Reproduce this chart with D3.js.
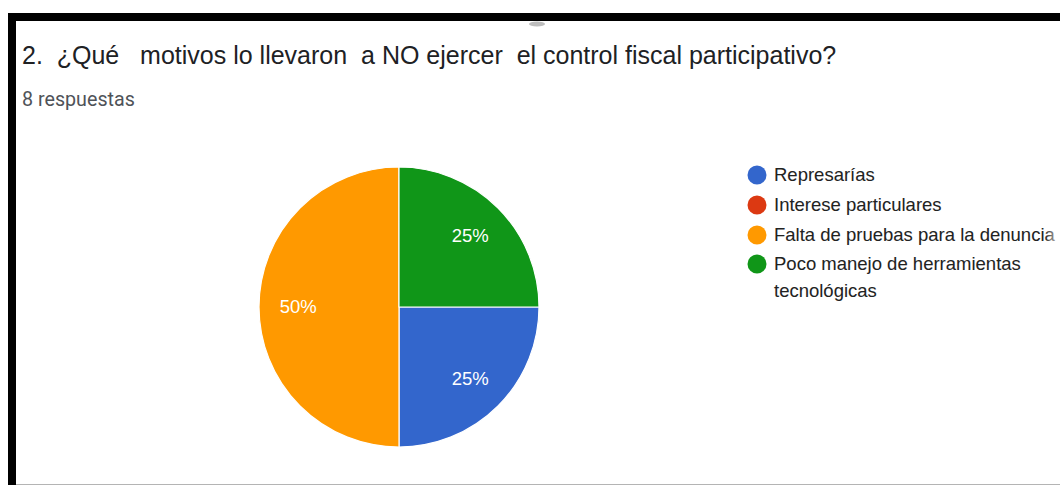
<!DOCTYPE html>
<html><head><meta charset="utf-8">
<script src="https://cdn.jsdelivr.net/npm/d3@7"></script>
<style>html,body{margin:0;padding:0;background:#fff;overflow:hidden}</style>
</head><body>
<svg id="c" width="1060" height="485"></svg>
<script>
const title = "2.  ¿Qué   motivos lo llevaron  a NO ejercer  el control fiscal participativo?";
const subtitle = "8 respuestas";
const categories = ["Represarías", "Interese particulares", "Falta de pruebas para la denuncia", "Poco manejo de herramientas tecnológicas"];
const legendLines = [["Represarías"], ["Interese particulares"], ["Falta de pruebas para la denuncia"], ["Poco manejo de herramientas", "tecnológicas"]];
const values = [2, 0, 4, 2];
const colors = ["#3366cc", "#dc3912", "#ff9900", "#109618"];

const svg = d3.select("#c");
svg.append("rect").attr("width",1060).attr("height",485).attr("fill","#fff");

// frame
svg.append("rect").attr("x",8).attr("y",13).attr("width",1052).attr("height",8).attr("fill","#000");
svg.append("rect").attr("x",8).attr("y",13).attr("width",8).attr("height",472).attr("fill","#000");
svg.append("line").attr("x1",16).attr("x2",1060).attr("y1",484.5).attr("y2",484.5).attr("stroke","#b4b4b4").attr("stroke-width",1);
svg.append("ellipse").attr("cx",537).attr("cy",24).attr("rx",8).attr("ry",2.5).attr("fill","#bdbdbd");

svg.append("text").attr("x",22).attr("y",64).attr("font-family","Arial, 'Liberation Sans', sans-serif")
  .attr("font-size",25).attr("fill","#202124").style("white-space","pre").text(title);
svg.append("text").attr("x",22).attr("y",106).attr("font-family","Roboto, Arial, sans-serif")
  .attr("font-size",19.7).attr("fill","#4f5358").text(subtitle);

const cx = 399, cy = 307, r = 140;
const g = svg.append("g").attr("transform",`translate(${cx},${cy})`);
const pie = d3.pie().sort(null).value(d=>d).startAngle(Math.PI/2).endAngle(Math.PI/2 + 2*Math.PI);
const arcs = pie(values);
const arc = d3.arc().innerRadius(0).outerRadius(r);
const total = d3.sum(values);
g.selectAll("path").data(arcs).join("path")
  .attr("d",arc).attr("fill",(d,i)=>colors[i]).attr("stroke","#fff").attr("stroke-width",1.2)
  .style("display",d=>d.value>0?null:"none");
const labelArc = d3.arc().innerRadius(r*0.72).outerRadius(r*0.72);
g.selectAll("text.lbl").data(arcs.filter(d=>d.value>0)).join("text").attr("class","lbl")
  .attr("transform",d=>`translate(${labelArc.centroid(d)})`)
  .attr("text-anchor","middle").attr("dy","0.35em")
  .attr("font-family","Arial, 'Liberation Sans', sans-serif").attr("font-size",18.5).attr("fill","#fff")
  .text(d=>d3.format(".0%")(d.value/total));

// legend
const defs = svg.append("defs");
const grad = defs.append("linearGradient").attr("id","fade").attr("gradientUnits","userSpaceOnUse")
  .attr("x1",1045).attr("x2",1060).attr("y1",0).attr("y2",0);
grad.append("stop").attr("offset",0).attr("stop-color","#222");
grad.append("stop").attr("offset",1).attr("stop-color","#ddd");
const lg = svg.append("g");
const rowY = [175, 205, 235, 264];
categories.forEach((c,i)=>{
  lg.append("circle").attr("cx",757).attr("cy",rowY[i]).attr("r",9.5).attr("fill",colors[i]);
  legendLines[i].forEach((t,j)=>{
    lg.append("text").attr("x",774).attr("y",rowY[i]+j*27).attr("dy","0.35em")
      .attr("font-family","Arial, 'Liberation Sans', sans-serif").attr("font-size",18.5)
      .attr("fill","url(#fade)").text(t);
  });
});
</script>
</body></html>
